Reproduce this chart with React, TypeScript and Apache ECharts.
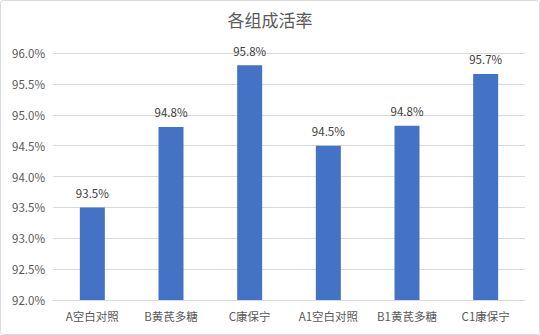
import React, { useEffect, useRef } from "react";
import * as echarts from "echarts";

const categories = ["A空白对照", "B黄芪多糖", "C康保宁", "A1空白对照", "B1黄芪多糖", "C1康保宁"];
const survivalRates = [93.5, 94.8, 95.8, 94.5, 94.82, 95.66];
const yMin = 92;
const yMax = 96;
const yStep = 0.5;

export default function App() {
  const ref = useRef<HTMLDivElement>(null);
  useEffect(() => {
    if (!ref.current) return;
    const chart = echarts.init(ref.current, null, { renderer: "svg" });
    const font = "'Noto Sans CJK SC', 'Noto Sans', sans-serif";
    chart.setOption({
      animation: false,
      backgroundColor: "#ffffff",
      textStyle: { fontFamily: font },
      title: {
        text: "各组成活率",
        left: "center",
        top: 6,
        textStyle: { fontSize: 17, fontWeight: "normal", color: "#595959", fontFamily: font },
      },
      graphic: [
        {
          type: "rect",
          shape: { x: 0.5, y: 0.5, width: 539, height: 334, r: 3 },
          style: { fill: "none", stroke: "#d9d9d9", lineWidth: 1 },
          silent: true,
        },
      ],
      grid: { left: 53, right: 15, top: 53, bottom: 35, containLabel: false },
      xAxis: {
        type: "category",
        data: categories,
        axisLine: { lineStyle: { color: "#d9d9d9" } },
        axisTick: { show: false },
        axisLabel: { color: "#595959", fontSize: 11.5, margin: 10, fontFamily: font },
      },
      yAxis: {
        type: "value",
        min: yMin,
        max: yMax,
        interval: yStep,
        axisLine: { show: false },
        axisTick: { show: false },
        splitLine: { lineStyle: { color: "#d9d9d9" } },
        axisLabel: {
          color: "#595959",
          fontSize: 11.5,
          margin: 8,
          fontFamily: font,
          formatter: (v: number) => v.toFixed(1) + "%",
        },
      },
      series: [
        {
          type: "bar",
          data: survivalRates,
          barWidth: 25,
          itemStyle: { color: "#4472C4" },
          label: {
            show: true,
            position: "top",
            distance: 9,
            color: "#404040",
            fontSize: 11.5,
            fontFamily: font,
            formatter: (p: any) => (p.value as number).toFixed(1) + "%",
          },
        },
      ],
    });
    return () => chart.dispose();
  }, []);
  return (
    <div
      ref={ref}
      style={{ position: "fixed", left: 0, top: 0, width: 540, height: 335 }}
    />
  );
}
